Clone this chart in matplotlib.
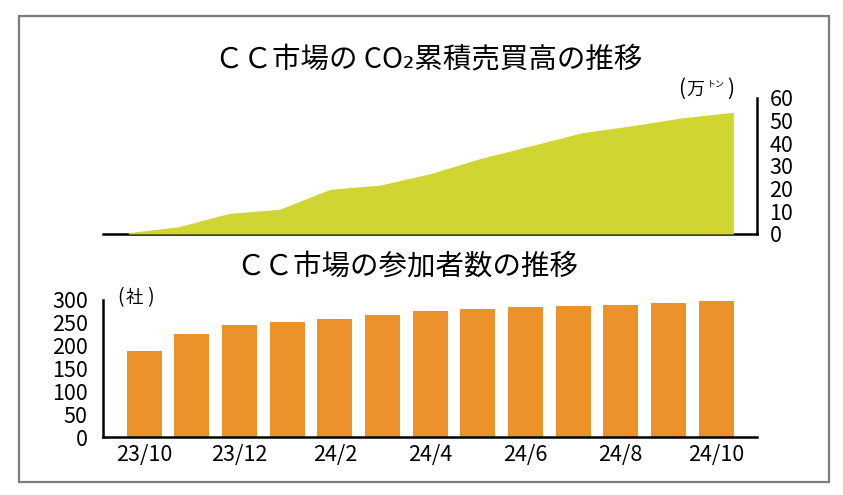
import numpy as np
import matplotlib
matplotlib.use('Agg')
import matplotlib.pyplot as plt
from matplotlib.patches import Rectangle

plt.rcParams['font.family'] = ['Noto Sans CJK JP', 'DejaVu Sans']

# 月（23/10〜24/10）
months = ['23/10', '23/11', '23/12', '24/1', '24/2', '24/3', '24/4',
          '24/5', '24/6', '24/7', '24/8', '24/9', '24/10']
# CO2累積売買高（万トン）
co2_volume = [0.6, 3.2, 9.1, 10.9, 19.7, 21.6, 26.7, 33.4, 39.0, 44.7, 47.8, 51.3, 53.7]
# 参加者数（社）
participants = [189, 225, 245, 251, 259, 268, 275, 280, 284, 287, 288, 294, 298]
# 表示する月ラベル
shown_months = ['23/10', '23/12', '24/2', '24/4', '24/6', '24/8', '24/10']

W, H = 843, 495
fig = plt.figure(figsize=(W / 100, H / 100), dpi=100)

def fx(px):
    return px / W

def fy(py):
    return 1 - py / H

def put(px, py, s, size):
    fig.text(fx(px), fy(py), s, ha='center', va='center', fontsize=size)

# 外枠
fig.patches.append(Rectangle((fx(19), fy(482)), fx(829) - fx(19), fy(16) - fy(482),
                             transform=fig.transFigure, fill=False,
                             ec='#7d7d7d', lw=1.6))

tick_fs = 15.5
x = np.arange(len(months))

# ---- 上段：CO2累積売買高（面グラフ） ----
ax1 = fig.add_axes([fx(103), fy(234), fx(757) - fx(103), fy(98) - fy(234)])
ax1.fill_between(x, co2_volume, 0, color='#cfd632', lw=0)
ax1.set_xlim(-0.5, 12.47)
ax1.set_ylim(0, 60)
for s in ['top', 'left']:
    ax1.spines[s].set_visible(False)
ax1.spines['right'].set_linewidth(1.8)
ax1.spines['bottom'].set_linewidth(1.8)
ax1.spines['bottom'].set_zorder(0)
ax1.yaxis.tick_right()
ax1.set_yticks(range(0, 61, 10))
ax1.tick_params(axis='y', length=0, pad=9, labelsize=tick_fs)
ax1.set_xticks([])
for lab in ax1.get_yticklabels():
    lab.set_horizontalalignment('left')

put(429, 60, 'ＣＣ市場の CO₂累積売買高の推移', 20.5)

# 単位（万ﾄﾝ）：トンは小さく上付き
put(682, 89, '(', 15)
put(695, 89.5, '万', 13)
put(715, 84, 'トン', 6.5)
put(731, 89, ')', 15)

# ---- 下段：参加者数（棒グラフ） ----
ax2 = fig.add_axes([fx(103), fy(437), fx(757) - fx(103), fy(300) - fy(437)])
ax2.bar(x, participants, width=0.735, color='#ec922a', lw=0)
ax2.set_xlim(-0.865, 12.86)
ax2.set_ylim(0, 300)
for s in ['top', 'right']:
    ax2.spines[s].set_visible(False)
ax2.spines['left'].set_linewidth(1.8)
ax2.spines['bottom'].set_linewidth(1.8)
ax2.set_yticks(range(0, 301, 50))
ax2.set_xticks([months.index(m) for m in shown_months])
ax2.set_xticklabels(shown_months)
ax2.tick_params(axis='y', length=0, pad=11, labelsize=tick_fs)
ax2.tick_params(axis='x', length=0, pad=5, labelsize=tick_fs)

put(407, 267, 'ＣＣ市場の参加者数の推移', 20.5)

# 単位（社）
put(120, 298, '(', 14)
put(134, 298, '社', 12.5)
put(150, 298, ')', 14)

fig.savefig('out.png', dpi=100)
